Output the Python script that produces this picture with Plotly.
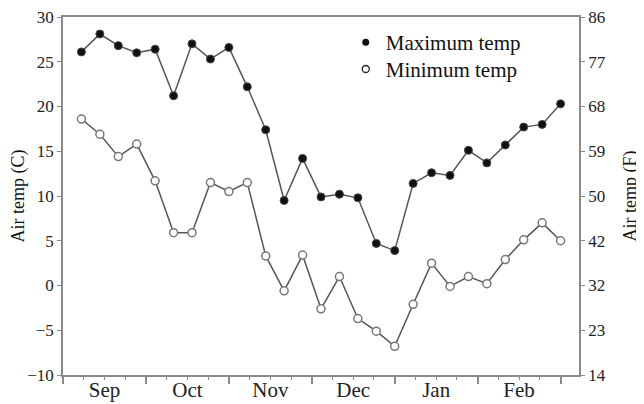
import plotly.graph_objects as go

# ---- data (weekly readings, Sep -> Feb) ----
weeks = list(range(27))
max_temp = [26.1, 28.1, 26.8, 26.0, 26.4, 21.2, 27.0, 25.3, 26.6, 22.2, 17.4, 9.5, 14.2,
            9.9, 10.2, 9.8, 4.7, 3.9, 11.4, 12.6, 12.3, 15.1, 13.7, 15.7, 17.7, 18.0, 20.3]
min_temp = [18.6, 16.9, 14.4, 15.8, 11.7, 5.9, 5.9, 11.5, 10.5, 11.5, 3.3, -0.6, 3.4,
            -2.6, 1.0, -3.7, -5.1, -6.8, -2.1, 2.5, -0.1, 1.0, 0.2, 2.9, 5.1, 7.0, 5.0]

months = ["Sep", "Oct", "Nov", "Dec", "Jan", "Feb"]
month_bounds = [-1, 3.5, 8, 12.5, 17, 21.5, 26]      # in week units
month_centers = [(a + b) / 2 for a, b in zip(month_bounds[:-1], month_bounds[1:])]
quarter_ticks = [a + (b - a) * k / 4 for a, b in zip(month_bounds[:-1], month_bounds[1:]) for k in (1, 2, 3)]

c_ticks = [-10, -5, 0, 5, 10, 15, 20, 25, 30]
f_labels = ["14", "23", "32", "42", "50", "59", "68", "77", "86"]

FONT = "Liberation Serif"
AX = "#8a8a8a"
LINE = "#555555"

fig = go.Figure()
fig.add_trace(go.Scatter(x=weeks, y=max_temp, mode="lines+markers", showlegend=False,
                         line=dict(color=LINE, width=1.5),
                         marker=dict(size=8, color="#111111", line=dict(color="#444", width=1))))
fig.add_trace(go.Scatter(x=weeks, y=min_temp, mode="lines+markers", showlegend=False,
                         line=dict(color=LINE, width=1.5),
                         marker=dict(size=8, color="white", line=dict(color="#777", width=1.5))))
# legend entries (marker only), one legend box per row
fig.add_trace(go.Scatter(x=[None], y=[None], mode="markers", name="Maximum temp", legend="legend",
                         marker=dict(size=7, color="#111111")))
fig.add_trace(go.Scatter(x=[None], y=[None], mode="markers", name="Minimum temp", legend="legend2",
                         marker=dict(size=7, color="white", line=dict(color="#222", width=1.3))))
# right axis carrier
fig.add_trace(go.Scatter(x=[None], y=[None], yaxis="y2", showlegend=False))
# month label axis
fig.add_trace(go.Scatter(x=[None], y=[None], xaxis="x2", showlegend=False))

leg = dict(xanchor="left", yanchor="top", font=dict(size=21, family=FONT, color="#111"),
           bgcolor="rgba(0,0,0,0)", itemwidth=30)

fig.update_layout(
    width=636, height=396,
    margin=dict(l=55, r=65, t=9, b=29),
    paper_bgcolor="white", plot_bgcolor="white",
    font=dict(family=FONT, size=17, color="#222"),
    showlegend=True,
    legend=dict(x=0.548, y=0.986, **leg),
    legend2=dict(x=0.548, y=0.911, **leg),
    xaxis=dict(range=[-1, 27], showgrid=False, zeroline=False, automargin=False,
               showline=True, linecolor=AX, linewidth=1.5, mirror=True,
               tickmode="array", tickvals=month_bounds, ticks="outside",
               ticklen=7, tickwidth=1.5, tickcolor=AX, showticklabels=False,
               minor=dict(tickmode="array", tickvals=quarter_ticks, ticks="outside",
                          ticklen=3, tickwidth=1.2, tickcolor=AX)),
    xaxis2=dict(range=[-1, 27], overlaying="x", side="bottom", anchor="y", automargin=False,
                showgrid=False, zeroline=False, showline=False,
                tickmode="array", tickvals=month_centers, ticktext=months,
                ticks="", ticklabelstandoff=0, ticklabeloverflow="allow",
                tickfont=dict(size=21, family=FONT, color="#222")),
    yaxis=dict(range=[-10, 30], showgrid=False, zeroline=False, automargin=False,
               showline=True, linecolor=AX, linewidth=1.5,
               tickmode="array", tickvals=c_ticks, ticks="outside",
               ticklen=4, tickwidth=1.2, tickcolor=AX, ticklabeloverflow="allow",
               tickfont=dict(size=17, family=FONT, color="#222"),
               title=dict(text="Air temp (C)", font=dict(size=18, family=FONT, color="#111"),
                          standoff=0)),
    yaxis2=dict(range=[-10, 30], overlaying="y", side="right", anchor="x", automargin=False,
                showgrid=False, zeroline=False,
                showline=True, linecolor=AX, linewidth=1.5,
                tickmode="array", tickvals=c_ticks, ticktext=f_labels, ticks="outside",
                ticklen=4, tickwidth=1.2, tickcolor=AX, ticklabeloverflow="allow",
                tickfont=dict(size=17, family=FONT, color="#222"),
                title=dict(text="Air temp (F)", font=dict(size=18, family=FONT, color="#111"),
                           standoff=19)),
)

fig.write_html("out.html")
